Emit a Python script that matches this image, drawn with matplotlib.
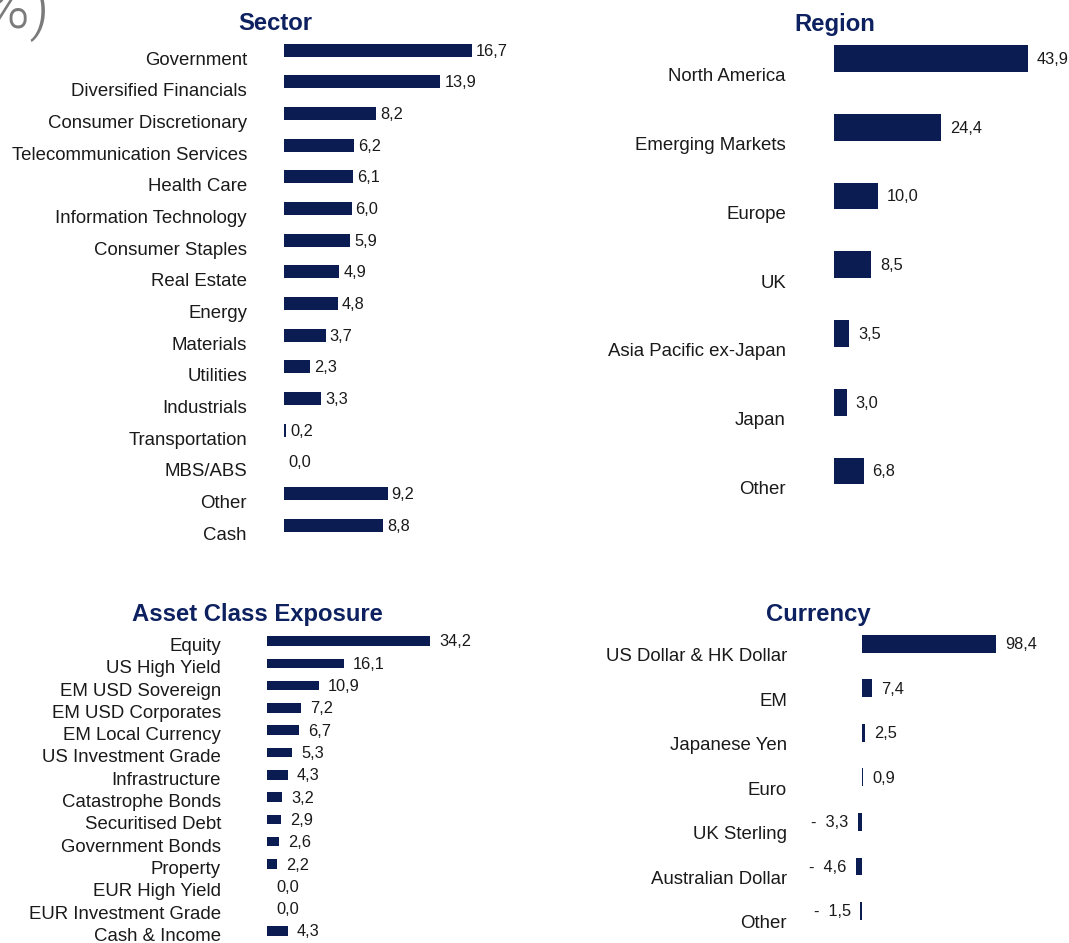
import matplotlib
matplotlib.use("Agg")
import matplotlib.pyplot as plt
from matplotlib.transforms import ScaledTranslation

plt.rcParams['font.family'] = ['Liberation Sans', 'DejaVu Sans']

# ---- data ----
sector_labels = ["Government", "Diversified Financials", "Consumer Discretionary",
                 "Telecommunication Services", "Health Care", "Information Technology",
                 "Consumer Staples", "Real Estate", "Energy", "Materials", "Utilities",
                 "Industrials", "Transportation", "MBS/ABS", "Other", "Cash"]
sector_values = [16.7, 13.9, 8.2, 6.2, 6.1, 6.0, 5.9, 4.9, 4.8, 3.7, 2.3, 3.3, 0.2, 0.0, 9.2, 8.8]

region_labels = ["North America", "Emerging Markets", "Europe", "UK",
                 "Asia Pacific ex-Japan", "Japan", "Other"]
region_values = [43.9, 24.4, 10.0, 8.5, 3.5, 3.0, 6.8]

asset_labels = ["Equity", "US High Yield", "EM USD Sovereign", "EM USD Corporates",
                "EM Local Currency", "US Investment Grade", "Infrastructure",
                "Catastrophe Bonds", "Securitised Debt", "Government Bonds", "Property",
                "EUR High Yield", "EUR Investment Grade", "Cash & Income"]
asset_values = [34.2, 16.1, 10.9, 7.2, 6.7, 5.3, 4.3, 3.2, 2.9, 2.6, 2.2, 0.0, 0.0, 4.3]

currency_labels = ["US Dollar & HK Dollar", "EM", "Japanese Yen", "Euro",
                   "UK Sterling", "Australian Dollar", "Other"]
currency_values = [98.4, 7.4, 2.5, 0.9, -3.3, -4.6, -1.5]

# ---- style ----
W, H, DPI = 1069, 943, 100
NAVY = "#0b1c52"
TITLE = "#0d2160"
TEXT = "#1a1a1a"

fig = plt.figure(figsize=(W / DPI, H / DPI), dpi=DPI)


def fmt(v):
    s = f"{abs(v):.1f}".replace(".", ",")
    return f"-  {s}" if v < 0 else s


def panel(labels, values, zero_px, scale, xlim, top_px, step_px, bar_h,
          label_pad, label_dy, value_gap):
    n = len(labels)
    x0 = zero_px + xlim[0] * scale
    width = (xlim[1] - xlim[0]) * scale
    height = n * step_px
    ax = fig.add_axes([x0 / W, 1 - (top_px + height) / H, width / W, height / H])
    ax.set_xlim(*xlim)
    ax.set_ylim(n - 0.5, -0.5)
    ax.axis("off")
    ys = list(range(n))
    ax.barh(ys, values, height=bar_h, color=NAVY, linewidth=0)
    for y, lab, v in zip(ys, labels, values):
        t_lab = ax.transData + ScaledTranslation(-label_pad / DPI, -label_dy / DPI,
                                                 fig.dpi_scale_trans)
        ax.text(0, y, lab, transform=t_lab, ha="right", va="center",
                fontsize=13.4, color=TEXT, clip_on=False)
        sign = -1 if v < 0 else 1
        t_val = ax.transData + ScaledTranslation(sign * value_gap / DPI, -1 / DPI,
                                                 fig.dpi_scale_trans)
        ax.text(v, y, fmt(v), transform=t_val, ha="right" if v < 0 else "left",
                va="center", fontsize=11.8, color=TEXT, clip_on=False)
    return ax


panel(sector_labels, sector_values, zero_px=284, scale=11.25, xlim=(0, 25),
      top_px=34.4, step_px=31.67, bar_h=0.41, label_pad=37, label_dy=10,
      value_gap=4)
panel(region_labels, region_values, zero_px=833.5, scale=4.42, xlim=(0, 50),
      top_px=24.1, step_px=68.75, bar_h=0.39, label_pad=47.5, label_dy=18.5,
      value_gap=9)
panel(asset_labels, asset_values, zero_px=267, scale=4.77, xlim=(0, 45),
      top_px=629.85, step_px=22.3, bar_h=0.43, label_pad=46, label_dy=5.5,
      value_gap=9)
panel(currency_labels, currency_values, zero_px=862, scale=1.362, xlim=(-10, 140),
      top_px=621.5, step_px=44.53, bar_h=0.40, label_pad=75, label_dy=13,
      value_gap=9)

# ---- titles ----
for txt, cx, cy in [("Sector", 275, 24), ("Region", 835, 24),
                    ("Asset Class Exposure", 257, 614), ("Currency", 818, 614)]:
    fig.text(cx / W, 1 - cy / H, txt, ha="center", va="center",
             fontsize=17.2, fontweight="bold", color=TITLE)

# heading tail in the top-left corner
fig.text(50 / W, 1 - 28 / H, "(%)", ha="right", va="baseline",
         fontsize=44, color="#7b7b7b", fontweight=300,
         family=["Roboto", "Liberation Sans", "DejaVu Sans"])

fig.savefig("out.png", dpi=DPI)
